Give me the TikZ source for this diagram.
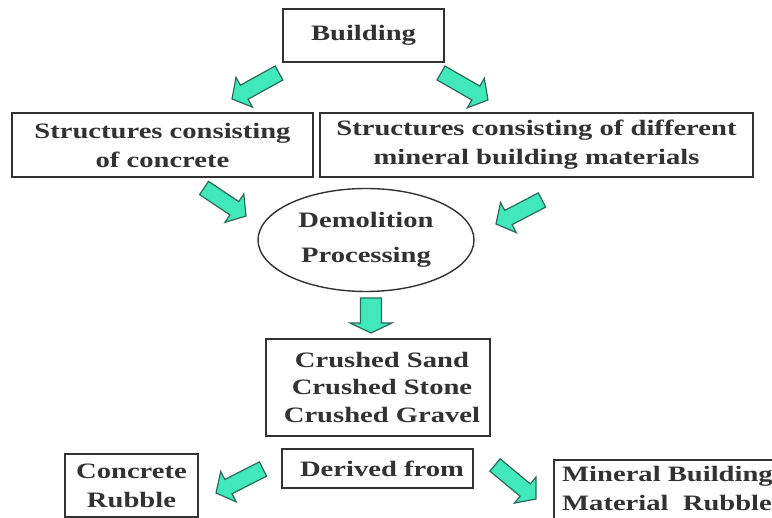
\documentclass[tikz,border=0pt]{standalone}
\usepackage{fontspec}
\newfontfamily\dfont{Liberation Serif}[FakeStretch=1.3]
\usetikzlibrary{calc,shapes.geometric}
\definecolor{arrfill}{RGB}{64,232,186}
\definecolor{arrline}{RGB}{45,105,90}
\definecolor{ink}{RGB}{50,50,50}
\newcommand\blockarrow[5]{%
  \coordinate (bh) at ($(#2)!#5!(#1)$);
  \draw[barrow] ($(#1)!#3!90:(#2)$) -- ($(bh)!#3!90:(#2)$) -- ($(bh)!#4!90:(#2)$) -- (#2)
    -- ($(bh)!#4!-90:(#2)$) -- ($(bh)!#3!-90:(#2)$) -- ($(#1)!#3!-90:(#2)$) -- cycle;}
\begin{document}
\begin{tikzpicture}[x=1pt,y=-1pt,
  barrow/.style={fill=arrfill,draw=arrline,line width=1.2pt,line join=miter},
  txt/.style={font=\dfont\bfseries\fontsize{22}{29}\selectfont,text=ink,align=center,inner sep=0pt},
  boxed/.style={txt,draw=ink,line width=1.8pt,rectangle}]
\useasboundingbox (0,0) rectangle (772,518);
\fill[white] (0,0) rectangle (772,518);
% boxes
\node[boxed,minimum width=161pt,minimum height=53pt] (building) at (363.5,35.5) {Building};
\node[boxed,minimum width=301pt,minimum height=64pt] (lbox) at (162.5,145)
  {Structures consisting\\of concrete};
\node[boxed,minimum width=433pt,minimum height=64pt] (rbox) at (536.5,145)
  {Structures consisting of different\\mineral building materials};
\node[txt,draw=ink,line width=1.4pt,ellipse,minimum width=216pt,minimum height=103pt,
  font=\dfont\bfseries\fontsize{22}{35}\selectfont] (demo) at (366,240) {Demolition\\Processing};
\node[boxed,minimum width=224pt,minimum height=97pt,
  font=\dfont\bfseries\fontsize{22}{27.5}\selectfont] (crushed) at (378,387.5)
  {\hspace{8pt}Crushed Sand\\\hspace{8pt}Crushed Stone\\\hspace{8pt}Crushed Gravel};
\node[boxed,minimum width=191pt,minimum height=39pt] (derived) at (377.5,468.5) {\hspace{9pt}Derived from};
\node[boxed,minimum width=133pt,minimum height=63pt] (concrete) at (131.5,485.5) {Concrete\\Rubble};
\begin{scope}
  \clip (0,0) rectangle (772,518);
  \node[draw=ink,line width=1.8pt,rectangle,minimum width=240pt,minimum height=80pt,anchor=north west]
    (mineral) at (553,459) {};
\end{scope}
\node[txt,align=left,anchor=west] (mineraltxt) at (562,489) {Mineral Building\\Material\ \ Rubble};
% arrows
\coordinate (a1s) at (279,73);  \coordinate (a1e) at (232,99);
\coordinate (a2s) at (441,73);  \coordinate (a2e) at (488,100);
\coordinate (a3s) at (204,188); \coordinate (a3e) at (246,216);
\coordinate (a4s) at (542,200); \coordinate (a4e) at (496,224);
\coordinate (a5s) at (371,298); \coordinate (a5e) at (371,333);
\coordinate (a6s) at (263,469); \coordinate (a6e) at (216,493);
\coordinate (a7s) at (495,465); \coordinate (a7e) at (536,499);
\blockarrow{a1s}{a1e}{8pt}{17pt}{14pt}
\blockarrow{a2s}{a2e}{8pt}{17pt}{14pt}
\blockarrow{a3s}{a3e}{8pt}{17pt}{14pt}
\blockarrow{a4s}{a4e}{8pt}{17pt}{14pt}
\blockarrow{a5s}{a5e}{10.5pt}{21pt}{10pt}
\blockarrow{a6s}{a6e}{8pt}{17pt}{14pt}
\blockarrow{a7s}{a7e}{8pt}{17pt}{14pt}
\end{tikzpicture}
\end{document}
